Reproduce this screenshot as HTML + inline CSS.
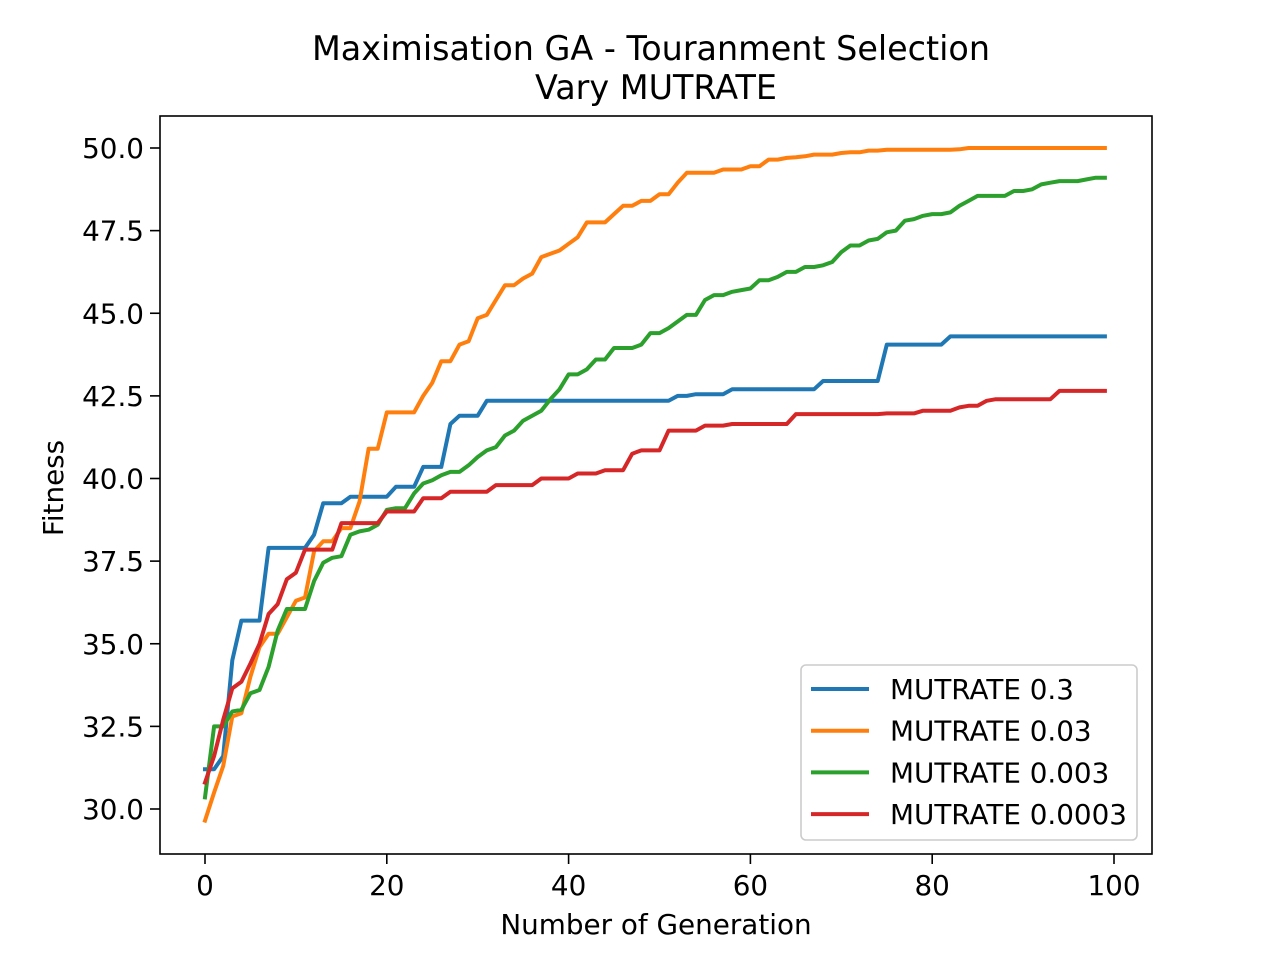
<!DOCTYPE html>
<html><head><meta charset="utf-8"><style>
html,body{margin:0;padding:0;background:#fff;}
svg{display:block;font-family:"DejaVu Sans","Liberation Sans",sans-serif;}
</style></head><body>
<svg id="chart" width="1280" height="960" viewBox="0 0 1280 960">
<rect width="1280" height="960" fill="#fff"/>
<text x="651" y="60" font-size="33.4" text-anchor="middle">Maximisation GA - Touranment Selection</text>
<text x="656" y="99" font-size="33.4" text-anchor="middle">Vary MUTRATE</text>
<g id="plot"></g>
<rect x="160" y="116" width="992" height="738" fill="none" stroke="#000" stroke-width="1.6"/>
<text x="656" y="934" font-size="27.8" text-anchor="middle">Number of Generation</text>
<text x="63" y="488" font-size="27.8" text-anchor="middle" transform="rotate(-90 63 488)">Fitness</text>
<g id="legend"></g>
</svg>
<script>
const seriesNames=["MUTRATE 0.3","MUTRATE 0.03","MUTRATE 0.003","MUTRATE 0.0003"];
const colors=["#1f77b4","#ff7f0e","#2ca02c","#d62728"];
const xTicks=[0,20,40,60,80,100];
const yTicks=[30.0,32.5,35.0,37.5,40.0,42.5,45.0,47.5,50.0];
const s03=[31.2,31.2,31.6,34.5,35.7,35.7,35.7,37.9,37.9,37.9,37.9,37.9,38.3,39.25,39.25,39.25,39.45,39.45,39.45,39.45,39.45,39.75,39.75,39.75,40.35,40.35,40.35,41.65,41.9,41.9,41.9,42.35,42.35,42.35,42.35,42.35,42.35,42.35,42.35,42.35,42.35,42.35,42.35,42.35,42.35,42.35,42.35,42.35,42.35,42.35,42.35,42.35,42.5,42.5,42.55,42.55,42.55,42.55,42.7,42.7,42.7,42.7,42.7,42.7,42.7,42.7,42.7,42.7,42.95,42.95,42.95,42.95,42.95,42.95,42.95,44.05,44.05,44.05,44.05,44.05,44.05,44.05,44.3,44.3,44.3,44.3,44.3,44.3,44.3,44.3,44.3,44.3,44.3,44.3,44.3,44.3,44.3,44.3,44.3,44.3];
const s003=[29.65,30.5,31.3,32.8,32.9,34.0,34.9,35.3,35.3,35.8,36.3,36.4,37.8,38.1,38.1,38.5,38.5,39.3,40.9,40.9,42.0,42.0,42.0,42.0,42.5,42.9,43.55,43.55,44.05,44.15,44.85,44.95,45.4,45.85,45.85,46.05,46.2,46.7,46.8,46.9,47.1,47.3,47.75,47.75,47.75,48.0,48.25,48.25,48.4,48.4,48.6,48.6,48.95,49.25,49.25,49.25,49.25,49.35,49.35,49.35,49.45,49.45,49.65,49.65,49.7,49.72,49.75,49.8,49.8,49.8,49.85,49.87,49.87,49.92,49.92,49.95,49.95,49.95,49.95,49.95,49.95,49.95,49.95,49.96,50,50,50,50,50,50,50,50,50,50,50,50,50,50,50,50];
const s0003=[30.35,32.5,32.5,32.95,33.0,33.5,33.6,34.3,35.4,36.05,36.05,36.05,36.9,37.45,37.6,37.65,38.3,38.4,38.45,38.6,39.05,39.1,39.1,39.55,39.85,39.95,40.1,40.2,40.2,40.4,40.65,40.85,40.95,41.3,41.45,41.75,41.9,42.05,42.4,42.7,43.15,43.15,43.3,43.6,43.6,43.95,43.95,43.95,44.05,44.4,44.4,44.55,44.75,44.95,44.95,45.4,45.55,45.55,45.65,45.7,45.75,46.0,46.0,46.1,46.25,46.25,46.4,46.4,46.45,46.55,46.85,47.05,47.05,47.2,47.25,47.45,47.5,47.8,47.85,47.95,48.0,48.0,48.05,48.25,48.4,48.55,48.55,48.55,48.55,48.7,48.7,48.75,48.9,48.95,49.0,49.0,49.0,49.05,49.1,49.1];
const s00003=[30.8,31.6,32.7,33.65,33.85,34.4,35.0,35.9,36.2,36.95,37.15,37.85,37.85,37.85,37.85,38.65,38.65,38.65,38.65,38.65,39.0,39.0,39.0,39.0,39.4,39.4,39.4,39.6,39.6,39.6,39.6,39.6,39.8,39.8,39.8,39.8,39.8,40.0,40.0,40.0,40.0,40.15,40.15,40.15,40.25,40.25,40.25,40.75,40.85,40.85,40.85,41.45,41.45,41.45,41.45,41.6,41.6,41.6,41.65,41.65,41.65,41.65,41.65,41.65,41.65,41.95,41.95,41.95,41.95,41.95,41.95,41.95,41.95,41.95,41.95,41.97,41.97,41.97,41.97,42.05,42.05,42.05,42.05,42.15,42.2,42.2,42.35,42.4,42.4,42.4,42.4,42.4,42.4,42.4,42.65,42.65,42.65,42.65,42.65,42.65];
const allSeries=[s03,s003,s0003,s00003];
const NS="http://www.w3.org/2000/svg";
const xS=v=>205+v*9.09;
const yS=v=>148+(50-v)*33.05;
const plot=document.getElementById('plot');
function mk(t,a,p){const e=document.createElementNS(NS,t);for(const k in a)e.setAttribute(k,a[k]);p.appendChild(e);return e;}
xTicks.forEach(t=>{
  const l=mk('line',{x1:xS(t),x2:xS(t),y1:854,y2:864,stroke:'#000','stroke-width':1.6},plot);
  
  
  const tx=mk('text',{x:xS(t),y:895,'font-size':27.8,'text-anchor':'middle'},plot);
  tx.textContent=t;
  
  
});
yTicks.forEach(t=>{
  const l=mk('line',{x1:150,x2:160,y1:yS(t),y2:yS(t),stroke:'#000','stroke-width':1.6},plot);
  
  
  const tx=mk('text',{x:144,y:yS(t)+10,'font-size':27.8,'text-anchor':'end'},plot);
  tx.textContent=t.toFixed(1);
  
  
});
allSeries.forEach((s,i)=>{
  const pts=s.map((v,j)=>xS(j).toFixed(1)+','+yS(v).toFixed(1)).join(' ');
  const p=mk('polyline',{points:pts,fill:'none',stroke:colors[i],'stroke-width':4,'stroke-linejoin':'round','stroke-linecap':'square'},plot);
  
  
});
const lg=document.getElementById('legend');
const box=mk('rect',{x:801,y:665,width:336,height:175,rx:5,fill:'#fff','fill-opacity':0.8,stroke:'#ccc','stroke-width':1.6},lg);


seriesNames.forEach((n,i)=>{
  const y=689+i*41.7;
  const l=mk('line',{x1:811,x2:869,y1:y,y2:y,stroke:colors[i],'stroke-width':4},lg);
  
  
  const t=mk('text',{x:890,y:y+10,'font-size':27.8},lg);
  t.textContent=n;
  
  
});
</script>
</body></html>
